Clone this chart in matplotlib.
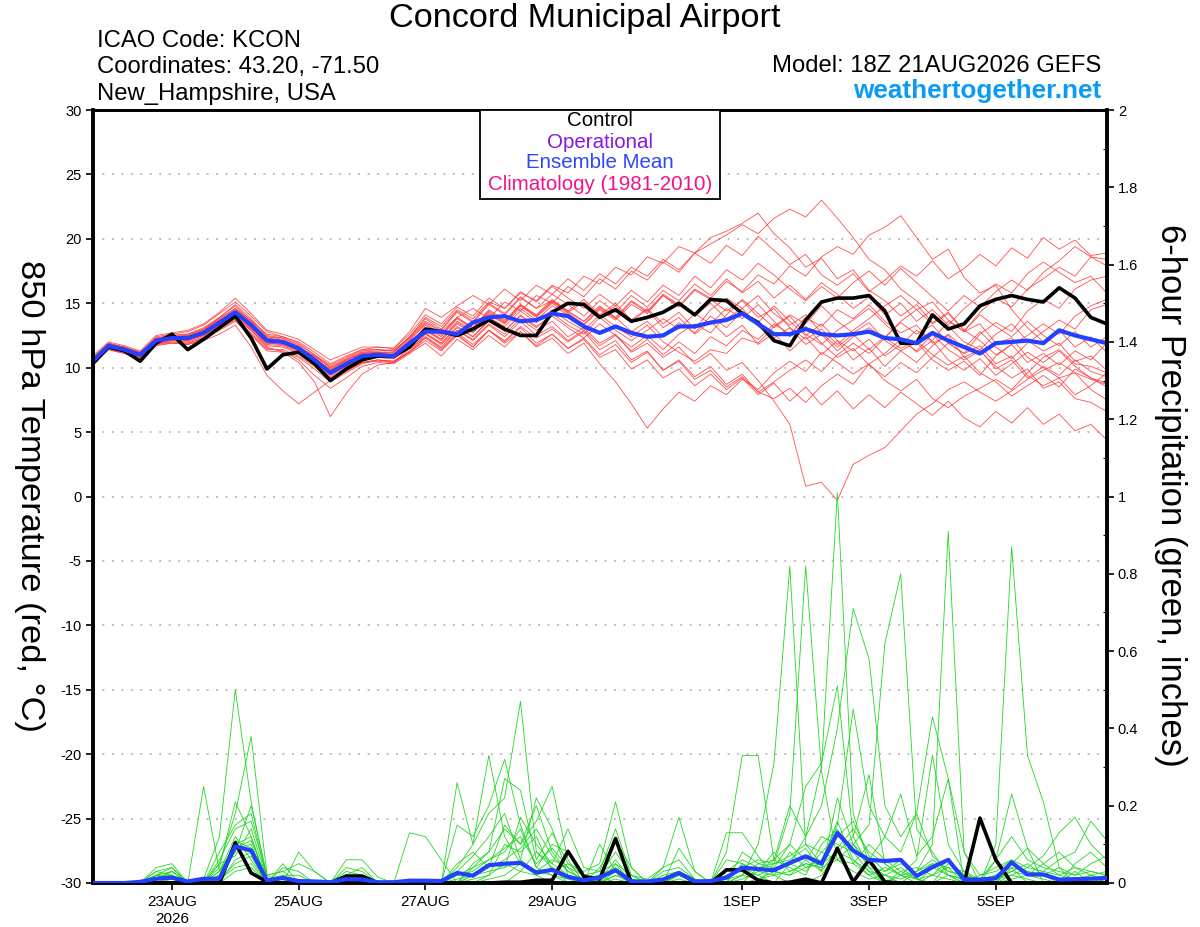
import matplotlib
matplotlib.use("Agg")
import matplotlib.pyplot as plt
import numpy as np
import pandas as pd
from matplotlib.patches import Rectangle

plt.rcParams['font.family'] = ['Liberation Sans', 'DejaVu Sans']

# ---------------- data ----------------
times = pd.date_range('2026-08-21 18:00', periods=65, freq='6h')

tick_dates = ['2026-08-23', '2026-08-25', '2026-08-27', '2026-08-29',
              '2026-09-01', '2026-09-03', '2026-09-05']
tick_labels = ['23AUG\n2026', '25AUG', '27AUG', '29AUG', '1SEP', '3SEP', '5SEP']

temp_ticks = [30, 25, 20, 15, 10, 5, 0, -5, -10, -15, -20, -25, -30]
precip_ticks = [0, 0.2, 0.4, 0.6, 0.8, 1.0, 1.2, 1.4, 1.6, 1.8, 2.0]
precip_tick_labels = ['0', '0.2', '0.4', '0.6', '0.8', '1', '1.2', '1.4', '1.6', '1.8', '2']

temp_mean = [10.5, 11.7, 11.4, 11.0, 12.1, 12.3, 12.3, 12.7, 13.5, 14.3,
             13.3, 12.1, 12.0, 11.5, 10.6, 9.6, 10.3, 10.9, 11.0, 10.9,
             11.9, 12.8, 12.8, 12.6, 13.5, 13.9, 14.0, 13.6, 13.7, 14.2,
             14.0, 13.2, 12.7, 13.2, 12.7, 12.4, 12.5, 13.2, 13.2, 13.5,
             13.7, 14.2, 13.4, 12.6, 12.6, 13.0, 12.6, 12.5, 12.6, 12.8,
             12.3, 12.2, 11.9, 12.7, 12.1, 11.6, 11.1, 11.9, 12.0, 12.1,
             11.9, 12.9, 12.5, 12.2, 11.9]

temp_control = [10.3, 11.6, 11.3, 10.5, 11.9, 12.6, 11.4, 12.2, 13.1, 14.0,
                12.3, 9.9, 11.0, 11.2, 10.3, 9.0, 9.9, 10.6, 10.9, 10.9,
                11.6, 13.0, 12.8, 12.5, 13.0, 13.7, 13.0, 12.5, 12.5, 14.3,
                15.0, 14.9, 13.9, 14.5, 13.6, 13.9, 14.3, 15.0, 14.1, 15.3,
                15.2, 14.2, 13.5, 12.1, 11.7, 13.7, 15.1, 15.4, 15.4, 15.6,
                14.4, 11.9, 11.9, 14.1, 13.0, 13.4, 14.8, 15.3, 15.6, 15.3,
                15.1, 16.2, 15.4, 13.9, 13.4]

temp_members = [
    [10.8, 11.9, 11.6, 11.2, 12.4, 12.6, 12.8, 13.3, 14.2, 15.1, 14.0, 12.8, 12.4, 11.9, 11.0, 10.2, 10.8, 11.4, 11.6, 11.5,
     12.8, 14.6, 13.9, 14.8, 15.6, 14.9, 16.1, 15.2, 16.4, 15.7, 16.9, 16.0, 17.3, 16.5, 17.8, 17.1, 18.4, 17.6, 18.9, 18.1,
     19.5, 18.7, 20.2, 19.1, 18.0, 18.8, 17.2, 16.4, 17.3, 15.9, 16.8, 17.9, 17.1, 18.3, 16.9, 17.7, 18.8, 17.9, 19.3, 18.5,
     20.1, 19.2, 19.9, 18.7, 18.9],
    [10.6, 11.8, 11.5, 11.1, 12.2, 12.4, 12.5, 12.9, 13.8, 14.6, 13.7, 12.5, 12.3, 11.7, 10.8, 9.8, 10.6, 11.2, 11.3, 11.4,
     12.3, 13.5, 12.8, 13.9, 14.6, 13.8, 15.1, 14.4, 15.6, 15.0, 16.3, 15.5, 16.9, 16.1, 17.5, 16.8, 18.2, 17.4, 18.9, 19.6,
     20.3, 21.1, 20.4, 21.6, 22.3, 21.7, 23.0, 21.6, 20.1, 18.4, 17.6, 16.1, 15.2, 14.0, 13.2, 12.0, 11.4, 12.6, 13.4, 12.1,
     11.3, 11.9, 10.5, 10.9, 9.8],
    [10.4, 11.5, 11.2, 10.8, 11.9, 12.1, 12.0, 12.4, 13.1, 13.9, 12.9, 11.7, 11.6, 11.1, 10.2, 9.2, 9.8, 10.4, 10.6, 10.5,
     11.3, 12.6, 11.8, 12.9, 12.2, 13.4, 12.6, 13.8, 12.9, 13.6, 12.4, 13.1, 11.9, 12.6, 11.2, 11.9, 10.8, 11.6, 10.3, 11.1,
     9.8, 10.4, 9.0, 7.4, 5.6, 0.8, 1.1, -0.3, 2.5, 3.2, 3.8, 5.1, 6.4, 7.2, 8.3, 8.9, 8.1, 7.4, 8.2, 9.1,
     9.8, 10.4, 9.6, 9.1, 8.7],
    [10.7, 11.8, 11.5, 11.1, 12.3, 12.5, 12.6, 13.0, 13.9, 14.8, 13.6, 12.2, 12.1, 11.5, 10.7, 9.9, 10.5, 11.1, 11.2, 11.2,
     12.4, 13.9, 13.2, 14.5, 13.8, 15.1, 14.6, 15.8, 15.2, 16.4, 15.8, 17.1, 16.5, 17.8, 17.2, 18.6, 18.1, 19.4, 18.9, 20.1,
     20.6, 21.2, 22.0, 20.4, 19.3, 17.8, 18.5, 16.9, 17.6, 16.0, 15.2, 14.0, 14.9, 13.5, 14.3, 12.9, 14.1, 13.2, 12.4, 13.6,
     12.5, 11.7, 12.8, 11.6, 12.4],
    [10.5, 11.6, 11.3, 10.9, 12.0, 12.2, 12.2, 12.6, 13.4, 14.2, 13.1, 11.9, 11.8, 11.3, 10.5, 9.5, 10.1, 10.7, 10.8, 10.7,
     11.6, 12.9, 12.2, 13.5, 12.8, 14.1, 13.4, 14.6, 13.7, 14.8, 14.1, 13.3, 14.5, 13.7, 14.9, 14.2, 15.6, 14.8, 16.1, 15.4,
     16.7, 15.9, 17.2, 16.5, 17.9, 17.1, 18.6, 19.4, 18.8, 20.3, 20.9, 21.8, 20.1, 18.4, 19.2, 17.0, 15.8, 16.4, 14.5, 13.1,
     12.0, 12.9, 11.6, 12.4, 11.2],
    [10.3, 11.5, 11.2, 10.7, 11.8, 12.0, 11.9, 12.3, 13.0, 13.8, 12.7, 11.5, 11.3, 10.6, 9.4, 8.4, 9.2, 10.1, 10.4, 10.3,
     11.1, 11.9, 10.9, 12.2, 11.4, 12.5, 11.6, 12.8, 11.7, 12.6, 11.5, 12.2, 10.8, 11.4, 9.9, 10.6, 9.2, 9.9, 8.6, 9.5,
     8.3, 9.2, 7.9, 8.8, 7.4, 8.5, 7.1, 8.2, 6.8, 7.9, 6.9, 8.1, 7.2, 6.3, 7.4, 6.1, 5.4, 6.6, 5.7, 6.9,
     5.6, 6.4, 5.1, 5.6, 4.4],
    [10.6, 11.7, 11.5, 11.0, 12.1, 12.4, 12.4, 12.8, 13.6, 14.4, 13.4, 12.3, 12.1, 11.6, 10.9, 10.0, 10.6, 11.1, 11.2, 11.1,
     12.1, 13.4, 12.6, 13.9, 13.1, 14.4, 13.6, 14.9, 14.1, 15.3, 14.4, 13.6, 14.8, 13.9, 12.8, 13.6, 12.4, 13.5, 12.7, 14.0,
     13.1, 14.4, 13.5, 14.8, 13.6, 12.5, 13.4, 12.1, 11.3, 12.2, 10.9, 11.8, 12.9, 12.1, 13.6, 12.8, 14.3, 15.4, 14.7, 16.1,
     16.9, 17.8, 17.1, 18.6, 17.9],
    [10.4, 11.6, 11.3, 10.9, 12.0, 12.1, 12.1, 12.5, 13.2, 14.0, 12.9, 11.8, 11.7, 11.2, 10.3, 9.3, 10.0, 10.7, 10.8, 10.7,
     11.5, 12.4, 11.6, 12.9, 12.1, 13.3, 12.4, 13.6, 12.5, 13.2, 12.1, 12.9, 11.7, 12.5, 11.3, 12.2, 11.0, 12.0, 11.1, 12.4,
     11.7, 12.9, 12.2, 13.4, 12.6, 13.9, 13.2, 14.5, 13.8, 14.9, 13.6, 12.7, 13.3, 11.9, 12.5, 10.8, 11.4, 9.9, 10.6, 9.2,
     10.1, 9.4, 10.6, 9.7, 9.3],
    [10.9, 12.0, 11.7, 11.3, 12.5, 12.7, 12.9, 13.4, 14.3, 15.4, 14.2, 12.9, 12.6, 12.2, 11.4, 10.6, 11.1, 11.6, 11.6, 11.5,
     12.6, 14.1, 13.4, 14.7, 14.0, 15.4, 14.6, 15.9, 15.1, 16.3, 15.4, 14.6, 15.7, 14.8, 16.0, 15.1, 16.4, 15.6, 17.1, 16.2,
     17.6, 16.8, 18.1, 17.2, 16.1, 15.2, 16.3, 15.4, 16.6, 17.5, 16.4, 17.7, 16.6, 15.5, 14.4, 15.6, 14.7, 15.9, 16.8, 16.0,
     17.4, 18.3, 19.4, 18.6, 18.4],
    [10.2, 11.4, 11.1, 10.6, 11.7, 11.9, 11.8, 12.2, 12.9, 13.6, 12.5, 11.3, 11.2, 10.8, 9.9, 8.9, 9.6, 10.3, 10.6, 10.5,
     11.2, 12.4, 11.5, 12.7, 11.8, 12.9, 12.0, 13.1, 11.9, 12.6, 11.5, 12.3, 11.0, 11.8, 10.4, 11.2, 9.8, 10.5, 9.1, 9.8,
     8.5, 9.3, 8.1, 8.9, 9.8, 10.6, 9.7, 11.0, 11.9, 11.1, 12.3, 11.5, 12.1, 11.0, 10.2, 10.9, 9.6, 8.9, 7.8, 8.6,
     9.4, 8.5, 9.9, 9.2, 8.8],
    [10.5, 11.7, 11.4, 11.0, 12.1, 12.3, 12.3, 12.7, 13.5, 14.2, 13.3, 12.2, 12.0, 11.5, 10.7, 9.7, 10.3, 10.9, 11.0, 10.9,
     11.9, 13.0, 12.2, 13.6, 12.9, 14.2, 13.5, 14.8, 14.0, 15.1, 14.3, 13.6, 14.7, 13.9, 15.2, 14.4, 15.7, 14.9, 14.1, 15.0,
     13.8, 14.6, 13.2, 12.3, 13.1, 11.8, 12.6, 11.3, 12.4, 13.1, 12.3, 13.6, 14.5, 13.4, 14.2, 12.9, 12.1, 11.0, 11.8, 10.4,
     11.1, 10.2, 11.3, 10.6, 11.9],
    [10.6, 11.8, 11.6, 11.1, 12.2, 12.5, 12.4, 12.9, 13.7, 14.5, 13.6, 12.6, 12.4, 12.0, 11.2, 10.3, 10.9, 11.4, 11.4, 11.3,
     12.3, 13.8, 13.0, 14.4, 13.6, 15.0, 14.2, 15.5, 14.6, 15.2, 14.3, 15.1, 14.0, 14.8, 13.6, 14.5, 13.1, 13.9, 12.6, 13.6,
     12.4, 13.3, 11.8, 12.7, 11.3, 12.4, 11.0, 12.1, 10.6, 11.5, 10.1, 11.3, 10.4, 11.7, 12.6, 11.5, 12.8, 11.6, 10.7, 11.9,
     12.8, 13.7, 13.0, 14.5, 14.9],
    [10.4, 11.5, 11.3, 10.8, 11.9, 12.2, 12.1, 12.5, 13.3, 14.1, 13.0, 11.9, 11.8, 11.3, 10.4, 9.4, 10.1, 10.8, 10.9, 10.8,
     11.7, 12.6, 11.9, 13.1, 12.4, 13.6, 12.8, 14.1, 13.2, 14.0, 13.1, 12.3, 13.4, 12.5, 11.6, 12.5, 11.4, 12.6, 13.4, 12.7,
     14.1, 15.3, 14.2, 13.1, 14.0, 12.6, 11.8, 12.9, 13.7, 14.6, 13.4, 12.3, 11.2, 12.1, 10.6, 9.8, 10.7, 9.4, 10.3, 11.2,
     10.4, 11.3, 10.1, 9.2, 8.5],
    [10.5, 11.6, 11.2, 10.8, 11.9, 12.0, 11.8, 12.1, 12.6, 13.3, 11.6, 9.4, 8.2, 7.2, 8.1, 9.0, 9.8, 10.4, 10.6, 10.4,
     11.2, 12.1, 11.3, 12.5, 11.6, 12.9, 12.1, 13.2, 12.3, 13.0, 12.0, 12.8, 11.4, 12.1, 10.6, 11.3, 9.8, 10.6, 9.3, 10.1,
     8.7, 9.5, 8.1, 7.6, 8.4, 7.3, 8.6, 9.5, 8.7, 10.3, 11.1, 12.2, 11.3, 12.6, 11.4, 10.6, 11.3, 10.1, 9.2, 9.9,
     8.4, 8.9, 7.6, 7.3, 6.6],
    [10.5, 11.7, 11.4, 10.9, 12.0, 12.2, 12.2, 12.6, 13.3, 14.0, 12.9, 11.6, 11.2, 10.4, 8.9, 6.2, 8.0, 9.5, 10.2, 10.4,
     11.5, 12.7, 11.9, 13.2, 12.4, 13.7, 12.9, 14.0, 13.1, 14.2, 13.3, 12.6, 13.9, 12.9, 12.1, 12.9, 13.8, 13.0, 14.2, 13.4,
     14.6, 13.8, 14.9, 13.6, 12.4, 13.2, 11.9, 10.8, 11.5, 10.2, 9.3, 10.4, 9.6, 10.8, 11.9, 11.1, 12.6, 13.5, 12.8, 14.4,
     15.3, 14.6, 16.1, 16.8, 17.1],
    [10.7, 11.9, 11.6, 11.2, 12.3, 12.5, 12.6, 13.1, 13.9, 14.9, 13.8, 12.4, 12.2, 11.6, 10.9, 10.1, 10.7, 11.3, 11.4, 11.3,
     12.4, 13.6, 12.9, 14.3, 13.5, 14.9, 14.1, 15.4, 14.6, 15.7, 14.9, 14.0, 15.2, 14.3, 15.6, 14.7, 16.0, 15.2, 16.5, 15.6,
     16.9, 15.8, 16.7, 15.4, 16.4, 15.3, 16.6, 15.7, 14.6, 15.5, 14.1, 15.0, 13.6, 14.5, 13.3, 14.6, 15.6, 16.5, 15.8, 17.3,
     18.2, 17.4, 16.6, 17.1, 15.8],
    [10.3, 11.4, 11.1, 10.7, 11.8, 11.9, 11.9, 12.3, 13.0, 13.7, 12.6, 11.4, 11.4, 10.9, 10.1, 9.1, 9.7, 10.4, 10.5, 10.4,
     11.2, 12.3, 11.4, 12.6, 11.6, 12.9, 11.9, 12.8, 11.6, 12.3, 11.1, 11.9, 10.3, 8.9, 7.2, 5.3, 6.8, 8.1, 7.4, 8.6,
     7.9, 9.1, 8.3, 9.6, 10.5, 9.7, 11.2, 10.4, 9.5, 10.3, 9.0, 8.2, 9.1, 7.6, 6.9, 7.8, 8.4, 9.1, 8.3, 9.6,
     10.8, 11.4, 10.3, 10.1, 9.6],
    [10.6, 11.7, 11.4, 11.0, 12.1, 12.3, 12.4, 12.8, 13.6, 14.4, 13.4, 12.3, 12.1, 11.6, 10.8, 9.8, 10.4, 11.0, 11.1, 11.0,
     12.0, 13.1, 12.4, 13.8, 13.0, 14.3, 13.5, 14.8, 13.9, 15.0, 14.2, 13.4, 14.6, 13.8, 15.1, 14.3, 15.6, 14.7, 16.0, 15.3,
     14.4, 15.2, 13.9, 14.6, 13.1, 12.2, 13.0, 11.8, 12.9, 13.8, 14.8, 15.6, 14.5, 15.1, 13.7, 12.8, 13.4, 11.9, 12.3, 10.8,
     10.0, 9.2, 9.6, 8.3, 7.5],
    [10.4, 11.6, 11.3, 10.9, 12.0, 12.2, 12.2, 12.6, 13.4, 14.1, 13.2, 12.0, 11.9, 11.4, 10.5, 9.5, 10.2, 10.8, 10.9, 10.8,
     11.8, 12.9, 12.1, 13.4, 12.7, 13.9, 13.2, 14.4, 13.5, 14.5, 13.6, 12.9, 14.1, 13.2, 12.4, 13.3, 12.0, 11.2, 10.5, 11.4,
     11.1, 12.3, 11.9, 13.2, 14.1, 13.4, 14.8, 13.6, 12.7, 13.5, 12.1, 11.3, 12.0, 10.6, 9.8, 10.5, 9.4, 10.9, 11.8, 12.5,
     13.4, 12.6, 14.0, 14.8, 15.3],
    [10.7, 11.8, 11.5, 11.1, 12.2, 12.4, 12.5, 13.0, 13.8, 14.6, 13.5, 12.4, 12.3, 11.8, 11.0, 10.0, 10.6, 11.2, 11.2, 11.2,
     12.2, 13.3, 12.5, 13.9, 13.1, 14.5, 13.7, 14.9, 14.0, 15.2, 14.4, 15.3, 14.1, 15.0, 13.7, 14.6, 13.4, 14.3, 13.0, 14.5,
     15.4, 14.6, 15.6, 14.2, 13.3, 14.1, 12.7, 11.6, 12.6, 11.4, 12.4, 13.5, 12.6, 13.3, 11.9, 11.1, 11.7, 10.3, 10.9, 9.4,
     8.6, 9.2, 7.9, 8.6, 9.6],
]

precip_mean = [0, 0, 0, 0.003, 0.011, 0.014, 0.004, 0.011, 0.011, 0.095,
               0.084, 0.007, 0.013, 0.005, 0.004, 0.002, 0.010, 0.009, 0.002, 0.002,
               0.006, 0.006, 0.005, 0.026, 0.019, 0.046, 0.050, 0.052, 0.027, 0.034,
               0.016, 0.007, 0.014, 0.033, 0.004, 0.004, 0.009, 0.026, 0.004, 0.005,
               0.014, 0.040, 0.036, 0.033, 0.052, 0.069, 0.050, 0.130, 0.084, 0.060,
               0.057, 0.060, 0.018, 0.041, 0.060, 0.009, 0.009, 0.012, 0.053, 0.022,
               0.022, 0.009, 0.010, 0.011, 0.013]

precip_control = [0, 0, 0, 0, 0, 0, 0, 0, 0, 0.104,
                  0.026, 0.003, 0, 0, 0, 0, 0.018, 0.018, 0, 0,
                  0, 0, 0, 0, 0, 0, 0.002, 0.002, 0.007, 0.007,
                  0.082, 0.017, 0.010, 0.115, 0, 0, 0, 0, 0, 0,
                  0.034, 0.034, 0.007, 0, 0.002, 0.010, 0, 0.090, 0.003, 0.060,
                  0.003, 0, 0, 0, 0, 0, 0.168, 0.060, 0, 0,
                  0, 0, 0, 0, 0]

precip_members = [
    [0, 0, 0, 0, 0.02, 0.03, 0, 0.01, 0.12, 0.50, 0.21, 0.01, 0, 0, 0, 0, 0, 0, 0, 0,
     0, 0, 0, 0.04, 0.10, 0.18, 0.22, 0.47, 0.08, 0.05, 0.02, 0, 0, 0.05, 0, 0, 0, 0.03, 0, 0,
     0, 0.08, 0.05, 0.06, 0.20, 0.12, 0.30, 1.01, 0.18, 0.05, 0.02, 0, 0.03, 0.10, 0.91, 0.08, 0, 0, 0.04, 0,
     0, 0, 0.03, 0, 0],
    [0, 0, 0, 0, 0.01, 0.02, 0, 0, 0.05, 0.18, 0.38, 0.02, 0.03, 0, 0, 0, 0, 0, 0, 0,
     0, 0, 0, 0, 0.05, 0.08, 0.14, 0.10, 0.16, 0.25, 0.06, 0, 0.02, 0, 0, 0, 0, 0, 0, 0,
     0, 0.02, 0.10, 0.31, 0.82, 0.10, 0.05, 0.16, 0.06, 0.02, 0, 0.03, 0.01, 0, 0.05, 0.02, 0, 0.10, 0.87, 0.33,
     0.21, 0.04, 0, 0.02, 0],
    [0, 0, 0, 0, 0.04, 0.05, 0, 0.25, 0.03, 0.10, 0.12, 0, 0, 0, 0, 0, 0, 0, 0, 0,
     0, 0, 0, 0.15, 0.12, 0.20, 0.32, 0.15, 0.04, 0.02, 0, 0, 0, 0, 0, 0, 0, 0, 0, 0,
     0, 0, 0, 0.05, 0.18, 0.82, 0.29, 0.06, 0.10, 0.15, 0.62, 0.80, 0.14, 0.08, 0.02, 0, 0, 0, 0, 0,
     0, 0, 0, 0, 0],
    [0, 0, 0, 0, 0.03, 0.04, 0, 0, 0, 0.06, 0.08, 0, 0.05, 0, 0, 0, 0, 0, 0, 0,
     0.13, 0.12, 0.06, 0, 0, 0, 0, 0.03, 0.02, 0.04, 0, 0, 0, 0, 0, 0, 0, 0, 0, 0,
     0.02, 0.04, 0.02, 0, 0.05, 0.12, 0.20, 0.40, 0.71, 0.58, 0.20, 0.12, 0.18, 0.43, 0.27, 0, 0, 0, 0, 0,
     0, 0, 0, 0, 0],
    [0, 0, 0, 0, 0.02, 0.01, 0, 0, 0.04, 0.21, 0.12, 0, 0, 0.08, 0.03, 0, 0, 0, 0, 0,
     0, 0, 0, 0.26, 0.10, 0.33, 0.12, 0.05, 0.02, 0, 0, 0, 0.04, 0.11, 0.04, 0, 0, 0, 0, 0,
     0.08, 0.33, 0.33, 0.06, 0.10, 0.25, 0.31, 0.51, 0.12, 0.04, 0, 0, 0, 0.02, 0.04, 0, 0, 0, 0.05, 0.09,
     0, 0, 0, 0, 0],
    [0, 0, 0, 0, 0.02, 0.01, 0, 0, 0.08, 0.15, 0.18, 0.01, 0.02, 0, 0, 0, 0.06, 0.06, 0.015, 0,
     0, 0, 0, 0, 0.04, 0.08, 0.27, 0.24, 0.06, 0.13, 0.05, 0.03, 0.05, 0.21, 0.04, 0, 0, 0.09, 0.03, 0,
     0.13, 0.13, 0.07, 0.02, 0, 0, 0.02, 0.08, 0.12, 0.28, 0.05, 0.02, 0.06, 0.33, 0.10, 0.03, 0, 0.06, 0.23, 0.09,
     0.05, 0.02, 0.04, 0.03, 0.02],
    [0, 0, 0, 0, 0.01, 0.02, 0, 0, 0.02, 0.09, 0.10, 0, 0, 0, 0, 0, 0.04, 0.03, 0, 0,
     0, 0, 0, 0, 0.02, 0.05, 0.04, 0.17, 0.10, 0.05, 0.14, 0.04, 0.03, 0.14, 0.02, 0.01, 0.04, 0.17, 0.03, 0,
     0, 0, 0.04, 0.03, 0.02, 0.06, 0.12, 0.10, 0.08, 0.03, 0, 0.02, 0, 0.04, 0.02, 0, 0.02, 0.04, 0.06, 0.04,
     0.07, 0.13, 0.17, 0.10, 0.06],
    [0, 0, 0, 0, 0.01, 0.03, 0, 0, 0.03, 0.12, 0.06, 0, 0, 0, 0, 0, 0, 0, 0, 0,
     0, 0, 0, 0.03, 0.07, 0.12, 0.18, 0.06, 0.22, 0.14, 0.02, 0, 0.10, 0.03, 0, 0, 0, 0, 0, 0,
     0, 0.05, 0.03, 0.08, 0.03, 0.05, 0.04, 0.12, 0.10, 0.06, 0.12, 0.23, 0.07, 0.12, 0.27, 0.08, 0.02, 0.03, 0.06, 0.02,
     0.03, 0.06, 0.08, 0.16, 0.11],
    [0, 0, 0, 0, 0.02, 0.02, 0, 0, 0.06, 0.14, 0.16, 0.02, 0, 0, 0, 0, 0.02, 0.04, 0, 0,
     0, 0, 0, 0.05, 0.08, 0.04, 0.15, 0.10, 0.20, 0.08, 0.03, 0.01, 0.02, 0.08, 0.02, 0, 0.04, 0.06, 0.01, 0,
     0.06, 0.05, 0.03, 0.02, 0.08, 0.04, 0.06, 0.15, 0.45, 0.20, 0.12, 0.08, 0.18, 0.07, 0.03, 0.02, 0, 0.02, 0.04, 0.03,
     0.02, 0, 0.05, 0.08, 0.04],
    [0, 0, 0, 0, 0.01, 0.01, 0, 0, 0.02, 0.08, 0.20, 0.02, 0.03, 0.05, 0.03, 0, 0.03, 0.02, 0, 0,
     0, 0, 0, 0.02, 0.03, 0.06, 0.08, 0.14, 0.04, 0.10, 0.08, 0.02, 0.01, 0.06, 0.01, 0, 0.03, 0.04, 0.01, 0,
     0.03, 0.06, 0.04, 0.05, 0.06, 0.09, 0.03, 0.22, 0.10, 0.04, 0.03, 0.06, 0.02, 0.05, 0.04, 0.03, 0.01, 0.06, 0.12, 0.06,
     0.04, 0.03, 0.02, 0.05, 0.07],
    [0, 0, 0, 0, 0.03, 0.02, 0, 0, 0.01, 0.04, 0.05, 0, 0.04, 0.03, 0, 0, 0, 0.01, 0, 0,
     0, 0, 0, 0.01, 0.02, 0.03, 0.04, 0.06, 0.03, 0.06, 0.04, 0, 0, 0.02, 0, 0, 0, 0.02, 0, 0,
     0.02, 0.03, 0.02, 0.04, 0.05, 0.03, 0.08, 0.06, 0.05, 0.10, 0.06, 0.03, 0.04, 0.02, 0.06, 0.02, 0, 0.01, 0.03, 0.02,
     0.05, 0.08, 0.04, 0.02, 0.03],
    [0, 0, 0, 0, 0.01, 0.03, 0, 0, 0, 0.03, 0.04, 0, 0, 0, 0, 0, 0, 0, 0, 0,
     0, 0, 0, 0, 0, 0.02, 0.05, 0.03, 0.08, 0.04, 0.02, 0.01, 0, 0.03, 0, 0, 0, 0, 0, 0,
     0, 0.02, 0.01, 0.03, 0.02, 0.04, 0.05, 0.08, 0.06, 0.03, 0.02, 0.01, 0.03, 0.05, 0.02, 0.01, 0, 0, 0.02, 0.01,
     0, 0, 0.01, 0.02, 0.01],
    [0, 0, 0, 0, 0, 0.01, 0, 0, 0.05, 0.07, 0.14, 0.01, 0, 0, 0, 0, 0.02, 0.01, 0, 0,
     0, 0, 0, 0, 0.01, 0.02, 0.10, 0.08, 0.12, 0.03, 0.05, 0.02, 0, 0.02, 0.01, 0, 0, 0.01, 0, 0,
     0, 0.01, 0.03, 0.06, 0.04, 0.02, 0.10, 0.14, 0.05, 0.02, 0.04, 0.02, 0.01, 0, 0.02, 0.01, 0, 0.02, 0.03, 0.05,
     0.02, 0.01, 0, 0.01, 0.02],
    [0, 0, 0, 0, 0.02, 0.01, 0, 0, 0.02, 0.11, 0.09, 0, 0.02, 0.02, 0, 0, 0, 0, 0, 0,
     0, 0, 0, 0, 0.02, 0.04, 0.06, 0.09, 0.14, 0.07, 0.03, 0.01, 0.02, 0.04, 0.01, 0, 0, 0.02, 0, 0,
     0.01, 0.02, 0.05, 0.04, 0.10, 0.06, 0.03, 0.09, 0.14, 0.08, 0.05, 0.02, 0.03, 0.06, 0.03, 0.02, 0, 0.01, 0.02, 0.04,
     0.03, 0.02, 0.01, 0, 0.01],
    [0, 0, 0, 0, 0.01, 0, 0, 0, 0.01, 0.05, 0.07, 0, 0, 0, 0, 0, 0, 0, 0, 0,
     0, 0, 0, 0, 0, 0.01, 0.02, 0.05, 0.03, 0.02, 0.01, 0, 0, 0.01, 0, 0, 0, 0, 0, 0,
     0, 0, 0.01, 0.02, 0.03, 0.05, 0.04, 0.06, 0.03, 0.01, 0.02, 0.04, 0.01, 0.02, 0.01, 0, 0, 0, 0.01, 0.02,
     0.01, 0, 0, 0.01, 0],
    [0, 0, 0, 0, 0.02, 0.04, 0, 0, 0.03, 0.09, 0.11, 0.01, 0.01, 0, 0, 0, 0.01, 0.02, 0, 0,
     0, 0, 0, 0.02, 0.04, 0.06, 0.09, 0.12, 0.05, 0.09, 0.04, 0.02, 0.03, 0.05, 0.02, 0, 0.02, 0.03, 0.01, 0,
     0.02, 0.04, 0.06, 0.05, 0.07, 0.10, 0.08, 0.12, 0.16, 0.07, 0.03, 0.05, 0.02, 0.04, 0.06, 0.02, 0.01, 0.02, 0.05, 0.03,
     0.02, 0.04, 0.02, 0.03, 0.02],
]

# ---------------- figure ----------------
W, H = 1200, 927
fig = plt.figure(figsize=(W / 100, H / 100), dpi=100)

L, R, T, B = 92.7, 1106.7, 110.0, 883.0
ax = fig.add_axes([L / W, 1 - B / H, (R - L) / W, (B - T) / H])
ax2 = ax.twinx()

RED = '#ff3b3b'
GREEN = '#22d822'
BLUE = '#2140ff'

for m in temp_members:
    ax.plot(times, m, color=RED, lw=0.6, alpha=0.9, zorder=2)
ax.plot(times, temp_control, color='black', lw=2.6, zorder=4)
ax.plot(times, temp_mean, color=BLUE, lw=3.0, zorder=5)

for m in precip_members:
    ax2.plot(times, m, color=GREEN, lw=0.6, zorder=2)
ax2.plot(times, precip_control, color='black', lw=2.6, zorder=4)
ax2.plot(times, precip_mean, color=BLUE, lw=3.0, zorder=5)

ax.set_xlim(times[0], times[-1])
ax.set_ylim(-30, 30)
ax2.set_ylim(0, 2)

ax.set_yticks(temp_ticks)
ax.set_yticklabels([str(t) for t in temp_ticks])
ax.grid(axis='y', color='#a8a8a8', linestyle=(0, (1.2, 5)), lw=1.1)
ax.set_xticks(pd.to_datetime(tick_dates))
ax.set_xticklabels(tick_labels)

ax2.set_yticks(precip_ticks)
ax2.set_yticklabels(precip_tick_labels)
ax2.set_yticks(np.arange(0.1, 2.0, 0.2), minor=True)

ax.tick_params(axis='y', direction='out', length=5, width=1.2, labelsize=10.5, pad=3)
ax.tick_params(axis='x', direction='out', length=5, width=1.2, labelsize=11, pad=4)
ax2.tick_params(axis='y', which='major', direction='out', length=5, width=1.2, labelsize=10.5, pad=3)
ax2.tick_params(axis='y', which='minor', direction='in', length=3, width=0.8)
ax2.tick_params(axis='x', which='both', bottom=False, top=False)

for a in (ax, ax2):
    for side in ('left', 'right', 'bottom'):
        a.spines[side].set_linewidth(2.6)
    a.spines['top'].set_linewidth(2.0)

for lbl in ax.get_xticklabels():
    lbl.set_linespacing(1.2)

def fx(x):
    return x / W

def fy(y):
    return 1 - y / H

# ---------------- texts ----------------
fig.text(fx(585), fy(18), 'Concord Municipal Airport', fontsize=24.7,
         ha='center', va='center')
fig.text(fx(97), fy(47), 'ICAO Code: KCON', fontsize=17.2, ha='left', va='baseline')
fig.text(fx(97), fy(73.5), 'Coordinates: 43.20, -71.50', fontsize=17.2, ha='left', va='baseline')
fig.text(fx(97), fy(100), 'New_Hampshire, USA', fontsize=17.2, ha='left', va='baseline')
fig.text(fx(1101), fy(72), 'Model: 18Z 21AUG2026 GEFS', fontsize=17.2, ha='right', va='baseline')
fig.text(fx(1101), fy(98), 'weathertogether.net', fontsize=18.8, ha='right', va='baseline',
         color='#0a9cf5', fontweight='bold')

fig.text(fx(29), fy(496), '850 hPa Temperature (red, °C)', fontsize=24.8, rotation=270,
         ha='center', va='center')
fig.text(fx(1171), fy(495), '6-hour Precipitation (green, inches)', fontsize=25, rotation=270,
         ha='center', va='center')

# legend box
leg = Rectangle((fx(480.3), fy(199)), fx(719.8) - fx(480.3), fy(110) - fy(199),
                transform=fig.transFigure, facecolor='white', edgecolor='black',
                lw=1.3, zorder=10)
fig.patches.append(leg)
legend_entries = [('Control', 'black', 121),
                  ('Operational', '#8a17e0', 142),
                  ('Ensemble Mean', '#2e46ff', 163),
                  ('Climatology (1981-2010)', '#f0128c', 184.5)]
for txt, col, yy in legend_entries:
    fig.text(fx(600), fy(yy), txt, color=col, fontsize=14.8, ha='center', va='center', zorder=11)

fig.savefig('out.png', dpi=100)
